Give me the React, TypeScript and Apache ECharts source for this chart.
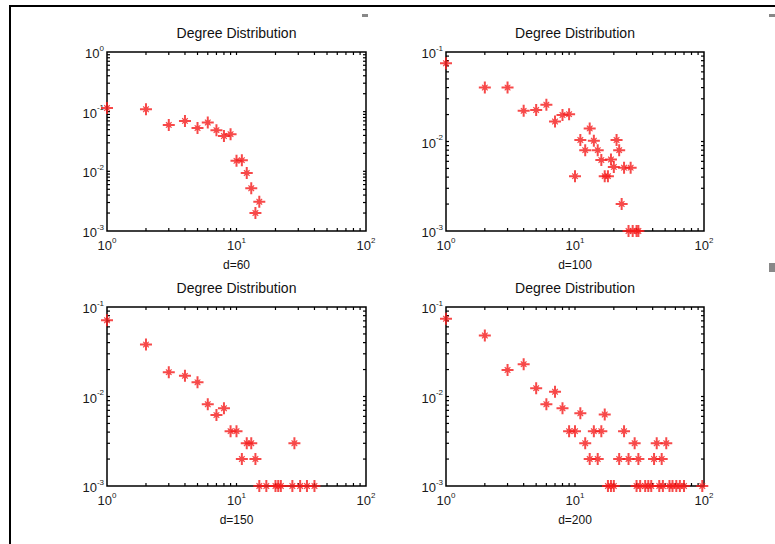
import React, { useEffect, useRef } from "react";
import * as echarts from "echarts";

// ---- data ----
const d60Degree = [1, 2, 3, 4, 5, 6, 7, 8, 9, 10, 11, 12, 13, 14, 15];
const d60Prob = [0.115, 0.11, 0.06, 0.07, 0.053, 0.066, 0.049, 0.039, 0.042, 0.015, 0.0154, 0.0094, 0.0052, 0.002, 0.0031];

const d100Degree = [1, 2, 3, 4, 5, 6, 7, 8, 9, 10, 11, 12, 13, 14, 15, 16, 17, 18, 19, 20, 21, 22, 23, 24, 27, 26, 28, 30, 31];
const d100Prob = [0.075, 0.04, 0.04, 0.022, 0.0225, 0.0257, 0.0167, 0.0198, 0.0202, 0.0041, 0.0104, 0.008, 0.014, 0.0102, 0.008, 0.0062, 0.0041, 0.0041, 0.0063, 0.0052, 0.0104, 0.008, 0.002, 0.0051, 0.0051, 0.001, 0.001, 0.001, 0.001];

const d150Degree = [1, 2, 3, 4, 5, 6, 7, 8, 9, 10, 11, 12, 13, 14, 15, 17, 20, 21, 22, 27, 28, 31, 35, 40];
const d150Prob = [0.071, 0.038, 0.0187, 0.017, 0.0144, 0.0082, 0.0062, 0.0074, 0.0041, 0.0041, 0.002, 0.003, 0.003, 0.002, 0.001, 0.001, 0.001, 0.001, 0.001, 0.001, 0.003, 0.001, 0.001, 0.001];

const d200Degree = [1, 2, 3, 4, 5, 6, 7, 8, 9, 10, 11, 12, 13, 14, 15, 16, 17, 18, 19, 20, 22, 24, 26, 29, 30, 31, 32, 35, 37, 39, 41, 43, 45, 47, 48, 51, 54, 57, 61, 65, 70, 97];
const d200Prob = [0.074, 0.048, 0.0198, 0.023, 0.0124, 0.0082, 0.0113, 0.0074, 0.0041, 0.0041, 0.0065, 0.003, 0.002, 0.0041, 0.002, 0.0041, 0.0063, 0.001, 0.001, 0.001, 0.002, 0.0041, 0.002, 0.003, 0.001, 0.002, 0.001, 0.001, 0.001, 0.001, 0.002, 0.003, 0.001, 0.002, 0.001, 0.003, 0.001, 0.001, 0.001, 0.001, 0.001, 0.001];

const panelLabels = ["d=60", "d=100", "d=150", "d=200"];
const panelTitle = "Degree Distribution";
const xRange = [1, 100];
const yRanges = [
  [0.001, 1],
  [0.001, 0.1],
  [0.001, 0.1],
  [0.001, 0.1],
];
const minorX = [2, 3, 4, 5, 6, 7, 8, 9, 10, 20, 30, 40, 50, 60, 70, 80, 90];
const minorYAll = [
  0.002, 0.003, 0.004, 0.005, 0.006, 0.007, 0.008, 0.009, 0.01,
  0.02, 0.03, 0.04, 0.05, 0.06, 0.07, 0.08, 0.09, 0.1,
  0.2, 0.3, 0.4, 0.5, 0.6, 0.7, 0.8, 0.9,
];

const seriesData = [
  [d60Degree, d60Prob],
  [d100Degree, d100Prob],
  [d150Degree, d150Prob],
  [d200Degree, d200Prob],
];

const grids = [
  { left: 107, top: 52, width: 259, height: 179 },
  { left: 446, top: 52, width: 258, height: 179 },
  { left: 107, top: 307, width: 259, height: 179 },
  { left: 446, top: 307, width: 258, height: 179 },
];

const FONT = "'Liberation Sans', Arial, sans-serif";
// bold plus with small diagonal arms (MATLAB '+' / '*' overlay look)
const MARKER =
  "path://M5,0 L7,0 L7,4 L8.5,2.8 L9.2,3.5 L8,5 L12,5 L12,7 L8,7 L9.2,8.5 L8.5,9.2 L7,8 L7,12 L5,12 L5,8 L3.5,9.2 L2.8,8.5 L4,7 L0,7 L0,5 L4,5 L2.8,3.5 L3.5,2.8 L5,4 Z";

function expLabel(v: number) {
  const e = Math.round(Math.log10(v));
  return `{b|10}{e|${e}}`;
}

const rich = {
  b: { fontSize: 13, fontFamily: FONT, color: "#1a1a1a", verticalAlign: "bottom" },
  e: { fontSize: 8, fontFamily: FONT, color: "#1a1a1a", verticalAlign: "bottom", padding: [0, 0, 8, 0] },
};

export default function App() {
  const ref = useRef<HTMLDivElement>(null);
  useEffect(() => {
    if (!ref.current) return;
    const chart = echarts.init(ref.current, undefined, { renderer: "svg" });

    const xAxis: any[] = [];
    const yAxis: any[] = [];
    const series: any[] = [];
    const graphic: any[] = [];

    grids.forEach((g, i) => {
      const [yLo, yHi] = yRanges[i];
      xAxis.push({
        gridIndex: i,
        type: "log",
        logBase: 10,
        min: xRange[0],
        max: xRange[1],
        axisLine: { show: false },
        axisTick: { show: false },
        splitLine: { show: false },
        axisLabel: { formatter: expLabel, rich, margin: 5 },
        name: panelLabels[i],
        nameLocation: "middle",
        nameGap: 28,
        nameTextStyle: { fontFamily: FONT, fontSize: 12, color: "#111" },
      });
      yAxis.push({
        gridIndex: i,
        type: "log",
        logBase: 10,
        min: yLo,
        max: yHi,
        axisLine: { show: false },
        axisTick: { show: false },
        splitLine: { show: false },
        axisLabel: { formatter: expLabel, rich, margin: 3 },
      });
      const [xs, ys] = seriesData[i];
      series.push({
        type: "scatter",
        xAxisIndex: i,
        yAxisIndex: i,
        symbol: MARKER,
        symbolSize: 12,
        itemStyle: { color: "#f51c1c" },
        data: xs.map((x, k) => [x, ys[k]]),
        clip: false,
        z: 5,
      });
      // minor + major ticks on all four sides (inward)
      const L = 3;
      series.push({
        type: "custom",
        xAxisIndex: i,
        yAxisIndex: i,
        clip: false,
        silent: true,
        data: minorX.map((v) => [v, yLo]),
        renderItem: (_p: any, api: any) => {
          const v = api.value(0);
          const b = api.coord([v, yLo]);
          const t = api.coord([v, yHi]);
          return {
            type: "group",
            children: [
              { type: "line", shape: { x1: b[0], y1: b[1], x2: b[0], y2: b[1] - L }, style: { stroke: "#000", lineWidth: 1.2 } },
              { type: "line", shape: { x1: t[0], y1: t[1], x2: t[0], y2: t[1] + L }, style: { stroke: "#000", lineWidth: 1.2 } },
            ],
          };
        },
      });
      series.push({
        type: "custom",
        xAxisIndex: i,
        yAxisIndex: i,
        clip: false,
        silent: true,
        data: minorYAll.filter((v) => v < yHi * 0.999).map((v) => [xRange[0], v]),
        renderItem: (_p: any, api: any) => {
          const v = api.value(1);
          const l = api.coord([xRange[0], v]);
          const r = api.coord([xRange[1], v]);
          return {
            type: "group",
            children: [
              { type: "line", shape: { x1: l[0], y1: l[1], x2: l[0] + L, y2: l[1] }, style: { stroke: "#000", lineWidth: 1.2 } },
              { type: "line", shape: { x1: r[0], y1: r[1], x2: r[0] - L, y2: r[1] }, style: { stroke: "#000", lineWidth: 1.2 } },
            ],
          };
        },
      });
      graphic.push({
        type: "text",
        x: g.left + g.width / 2,
        y: g.top - 19,
        style: {
          text: panelTitle,
          fontFamily: FONT,
          fontSize: 14,
          fill: "#111",
          textAlign: "center",
          textVerticalAlign: "middle",
        },
      });
    });

    // outer frame (top and left edges) and small gray marks
    graphic.push(
      { type: "rect", shape: { x: 9, y: 5, width: 766, height: 2 }, style: { fill: "#000" } },
      { type: "rect", shape: { x: 9, y: 5, width: 2, height: 539 }, style: { fill: "#000" } },
      { type: "rect", shape: { x: 362, y: 14, width: 6, height: 3 }, style: { fill: "#888" } },
      { type: "rect", shape: { x: 769, y: 14, width: 6, height: 3 }, style: { fill: "#888" } },
      { type: "rect", shape: { x: 769, y: 263, width: 6, height: 9 }, style: { fill: "#888" } }
    );

    chart.setOption({
      animation: false,
      backgroundColor: "#fff",
      grid: grids.map((g) => ({ ...g, show: true, borderColor: "#000", borderWidth: 1.5, backgroundColor: "transparent" })),
      xAxis,
      yAxis,
      series,
      graphic,
    });
    return () => chart.dispose();
  }, []);
  return (
    <div
      ref={ref}
      style={{ position: "fixed", left: 0, top: 0, width: 775, height: 544, background: "#fff" }}
    />
  );
}
